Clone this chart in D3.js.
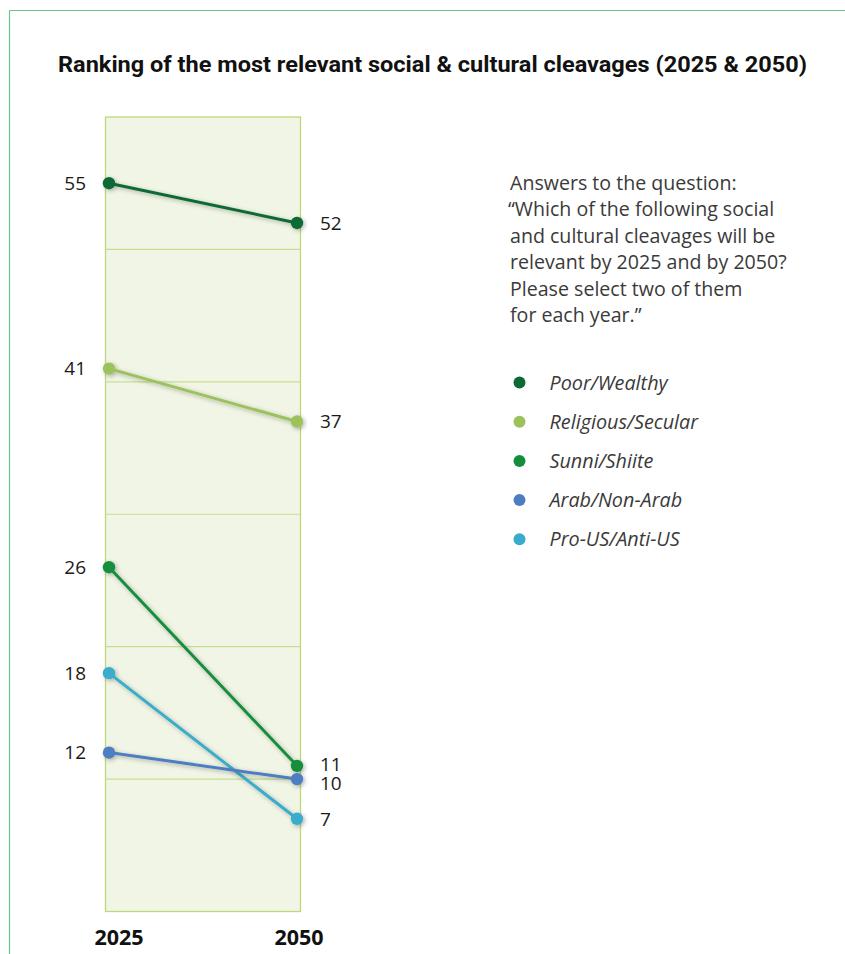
<!DOCTYPE html>
<html>
<head>
<meta charset="utf-8">
<script src="https://cdn.jsdelivr.net/npm/d3@7"></script>
<style>
  html, body { margin: 0; padding: 0; background: #fff; }
  svg { display: block; }
</style>
</head>
<body>
<svg id="chart" width="845" height="954"></svg>
<script>
const categories = ["Poor/Wealthy", "Religious/Secular", "Sunni/Shiite", "Arab/Non-Arab", "Pro-US/Anti-US"];
const years = ["2025", "2050"];
const values2025 = [55, 41, 26, 12, 18];
const values2050 = [52, 37, 11, 10, 7];
const colors = ["#0d6a36", "#9cc25b", "#148e3c", "#4e7ec2", "#3aaccb"];
const gridTicks = [10, 20, 30, 40, 50];
const yDomain = [0, 60];
const titleText = "Ranking of the most relevant social & cultural cleavages (2025 & 2050)";
const noteLines = [
  "Answers to the question:",
  "\u201CWhich of the following social",
  "and cultural cleavages will be",
  "relevant by 2025 and by 2050?",
  "Please select two of them",
  "for each year.\u201D"
];

const svg = d3.select("#chart");

// drop shadow filter
const defs = svg.append("defs");
const f = defs.append("filter").attr("id", "shadow")
  .attr("x", "-50%").attr("y", "-50%").attr("width", "200%").attr("height", "200%");
f.append("feDropShadow").attr("dx", 1.5).attr("dy", 1.5)
  .attr("stdDeviation", 2).attr("flood-color", "#000").attr("flood-opacity", 0.3);

// outer frame lines
svg.append("line").attr("x1", 9.5).attr("x2", 845).attr("y1", 10.5).attr("y2", 10.5)
  .attr("stroke", "#6cc48a").attr("stroke-width", 1.2);
svg.append("line").attr("x1", 9.5).attr("x2", 9.5).attr("y1", 10.5).attr("y2", 954)
  .attr("stroke", "#6cc48a").attr("stroke-width", 1.2);

// title
svg.append("text")
  .attr("x", 58).attr("y", 72)
  .attr("font-family", "Roboto, 'Open Sans', sans-serif")
  .attr("font-weight", 700)
  .attr("font-size", 22.5)
  .attr("fill", "#111")
  .attr("textLength", 749)
  .attr("lengthAdjust", "spacingAndGlyphs")
  .text(titleText);

const x = d3.scalePoint().domain(years).range([109, 297]);
const y = d3.scaleLinear().domain(yDomain).range([911.5, 117]);

// plot background
svg.append("rect")
  .attr("x", x(years[0]) - 3.5).attr("y", y(yDomain[1]))
  .attr("width", x(years[1]) - x(years[0]) + 7)
  .attr("height", y(yDomain[0]) - y(yDomain[1]))
  .attr("fill", "#f1f5e5").attr("stroke", "#bcd97c").attr("stroke-width", 1.3);

svg.append("g").selectAll("line").data(gridTicks).join("line")
  .attr("x1", x(years[0]) - 3.5).attr("x2", x(years[1]) + 3.5)
  .attr("y1", d => y(d)).attr("y2", d => y(d))
  .attr("stroke", "#c6df8f").attr("stroke-width", 1.2);

const series = categories.map((c, i) => ({
  name: c, color: colors[i],
  pts: [{ year: years[0], v: values2025[i] }, { year: years[1], v: values2050[i] }]
}));

const line = d3.line().x(d => x(d.year)).y(d => y(d.v));
const drawOrder = [0, 1, 2, 4, 3];
const g = svg.append("g");
drawOrder.forEach(i => {
  const s = series[i];
  const sg = g.append("g").attr("filter", "url(#shadow)");
  sg.append("path").attr("d", line(s.pts)).attr("fill", "none")
    .attr("stroke", s.color).attr("stroke-width", 3);
  sg.selectAll("circle").data(s.pts).join("circle")
    .attr("cx", d => x(d.year)).attr("cy", d => y(d.v)).attr("r", 6.2)
    .attr("fill", s.color);
});

// value labels
const labelFont = "'Open Sans', sans-serif";
series.forEach((s, i) => {
  svg.append("text")
    .attr("x", 86).attr("y", y(s.pts[0].v)).attr("dy", "0.36em")
    .attr("text-anchor", "end")
    .attr("font-family", labelFont).attr("font-size", 19).attr("fill", "#1a1a1a")
    .text(s.pts[0].v);
  const v = s.pts[1].v;
  const extra = v === 10 ? 4 : (v === 11 ? -1.5 : 0);
  svg.append("text")
    .attr("x", 320).attr("y", y(v) + extra).attr("dy", "0.36em")
    .attr("text-anchor", "start")
    .attr("font-family", labelFont).attr("font-size", 19).attr("fill", "#1a1a1a")
    .text(v);
});

// year labels
svg.append("g").selectAll("text").data(years).join("text")
  .attr("x", (d, i) => x(d) + (i === 0 ? 10 : 2))
  .attr("y", 945)
  .attr("text-anchor", "middle")
  .attr("font-family", "'Open Sans', sans-serif")
  .attr("font-weight", 700).attr("font-size", 21.5).attr("fill", "#111")
  .text(d => d);

// note
svg.append("g").selectAll("text").data(noteLines).join("text")
  .attr("x", d => d.startsWith("\u201C") ? 508 : 510)
  .attr("y", (d, i) => 189.5 + i * 26.5)
  .attr("font-family", "'Open Sans', sans-serif")
  .attr("font-size", 19.6).attr("fill", "#3a3a3a")
  .text(d => d);

// legend
const lg = svg.append("g").selectAll("g").data(series).join("g")
  .attr("transform", (d, i) => `translate(519.5, ${382.5 + i * 39.2})`);
lg.append("circle").attr("r", 6).attr("fill", d => d.color);
lg.append("text").attr("x", 30).attr("dy", "0.36em")
  .attr("font-family", "'Open Sans', sans-serif").attr("font-style", "italic")
  .attr("font-size", 19.8).attr("fill", "#3a3a3a")
  .text(d => d.name);
</script>
</body>
</html>
